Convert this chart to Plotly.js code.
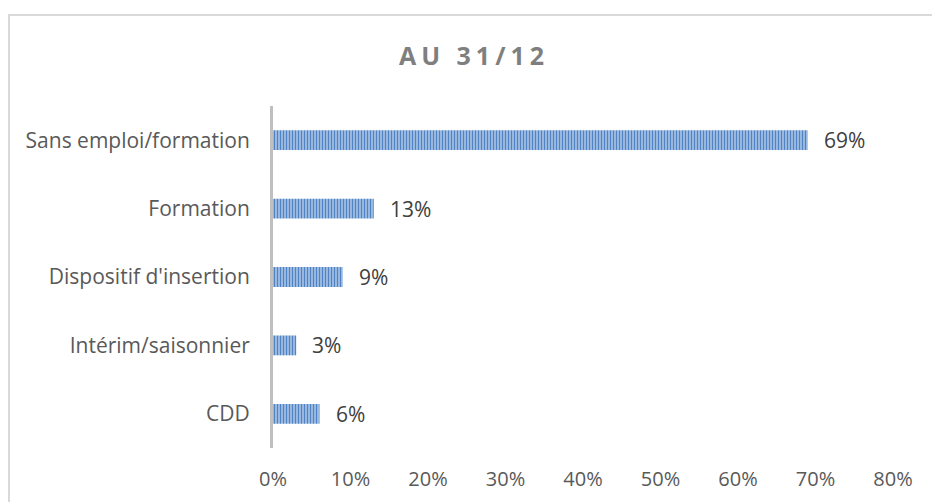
<!DOCTYPE html>
<html>
<head>
<meta charset="utf-8">
<script src="https://cdn.plot.ly/plotly-3.0.1.min.js"></script>
<style>
  html, body { margin: 0; padding: 0; background: #ffffff; overflow: hidden; }
  #wrap { position: relative; width: 932px; height: 502px; }
  #chart { position: absolute; left: 0; top: 0; width: 932px; height: 502px; }
  #frame { position: absolute; left: 8px; top: 14px; width: 940px; height: 600px;
           border-left: 2px solid #d9d9d9; border-top: 2px solid #d9d9d9; pointer-events: none; }
  .gtitle { letter-spacing: 5px; }
</style>
</head>
<body>
<div id="wrap">
  <div id="chart"></div>
  <div id="frame"></div>
</div>
<script>
const titleText = "AU 31/12";
const categories = ["Sans emploi/formation", "Formation", "Dispositif d'insertion", "Intérim/saisonnier", "CDD"];
const values = [0.69, 0.13, 0.09, 0.03, 0.06];
const xTickValues = [0, 0.1, 0.2, 0.3, 0.4, 0.5, 0.6, 0.7, 0.8];

const FONT = "'Open Sans', 'Liberation Sans', sans-serif";

const trace = {
  type: "bar",
  orientation: "h",
  y: categories,
  x: values,
  marker: {
    color: "#c3d5ee",
    line: { width: 0 },
    pattern: { shape: "|", bgcolor: "#bcd1ee", fgcolor: "#4f83c4", size: 3, solidity: 0.55, fillmode: "replace" }
  },
  hoverinfo: "skip"
};

const annotations = categories.map((c, i) => ({
  x: values[i],
  y: c,
  xref: "x",
  yref: "y",
  text: Math.round(values[i] * 100) + "%",
  showarrow: false,
  xanchor: "left",
  yanchor: "middle",
  xshift: 14,
  font: { family: FONT, size: 21, color: "#404040" }
}));

const layout = {
  width: 932,
  height: 502,
  margin: { l: 273, r: 39, t: 106, b: 54, pad: 0 },
  paper_bgcolor: "rgba(0,0,0,0)",
  plot_bgcolor: "rgba(0,0,0,0)",
  showlegend: false,
  bargap: 0.71,
  title: {
    text: titleText,
    x: 474 / 932,
    xref: "container",
    xanchor: "center",
    y: 1 - 56 / 502,
    yref: "container",
    yanchor: "middle",
    font: { family: FONT, size: 25, color: "#7f7f7f", weight: "bold" }
  },
  xaxis: {
    range: [0, 0.8],
    tickvals: xTickValues,
    tickformat: ".0%",
    showgrid: false,
    zeroline: false,
    showline: false,
    ticks: "",
    ticklabelstandoff: 17,
    tickfont: { family: FONT, size: 20, color: "#595959" },
    fixedrange: true
  },
  yaxis: {
    autorange: "reversed",
    showgrid: false,
    zeroline: false,
    showline: true,
    linecolor: "#bfbfbf",
    linewidth: 3,
    ticks: "",
    ticklabelstandoff: 16,
    tickfont: { family: FONT, size: 21, color: "#595959" },
    fixedrange: true
  },
  annotations: annotations
};

layout.xaxis.title = { text: "" };
layout.yaxis.title = { text: "" };

Plotly.newPlot("chart", [trace], layout, { displayModeBar: false, staticPlot: true });
</script>
</body>
</html>
